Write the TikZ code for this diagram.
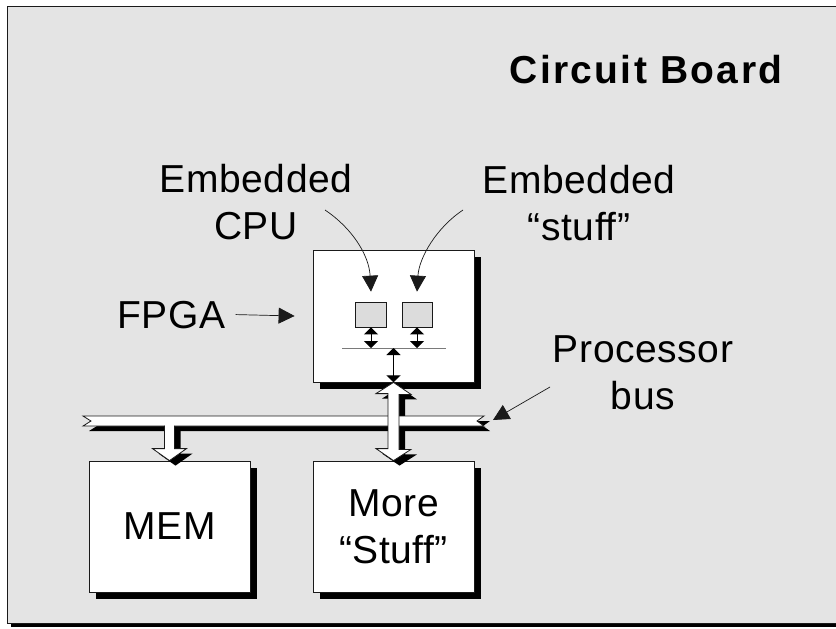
\documentclass[tikz,border=0pt]{standalone}
\usepackage{fontspec}
\setmainfont{Liberation Sans}[LetterSpace=1.5]
\newfontfamily\titlefont{Liberation Sans}[LetterSpace=6]
\usetikzlibrary{arrows.meta,shadows}
\definecolor{boardgray}{HTML}{E4E4E4}
\definecolor{chipgray}{HTML}{DCDCDC}
\definecolor{wire}{HTML}{1A1A1A}
\definecolor{trace}{HTML}{7A7A7A}

\tikzset{
  block/.style={draw=wire, line width=0.8pt, fill=white, align=center,
    minimum width=161pt, minimum height=131pt, inner sep=0pt,
    drop shadow={shadow xshift=7pt, shadow yshift=-7pt, fill=black, opacity=1}},
  core/.style={draw=wire, line width=0.7pt, fill=chipgray,
    minimum width=31pt, minimum height=25pt, inner sep=0pt},
  lbl/.style={align=center, inner sep=0pt, anchor=base},
  pointer/.style={wire, line width=0.7pt, -{Triangle[length=16pt,width=16pt]}},
  link/.style={black, line width=1pt,
    {Triangle[length=7pt,width=14pt]}-{Triangle[length=7pt,width=14pt]}},
  hollow/.style={fill=white, draw=wire, line width=0.8pt},
  shadowfill/.style={fill=black, transform canvas={xshift=6pt, yshift=-5pt}},
}

\begin{document}
\begin{tikzpicture}[x=1pt, y=-1pt, font=\fontsize{39}{47}\selectfont]
  \useasboundingbox (0,0) rectangle (836,629);

  % board
  \draw[wire, fill=boardgray, line width=0.8pt,
    drop shadow={shadow xshift=4pt, shadow yshift=-4pt, fill=black, opacity=1}]
    (7,6) rectangle (850,623);
  \node[lbl, font=\titlefont\bfseries\fontsize{39}{47}\selectfont] (title)
    at (646,83) {Circuit Board};

  % chips
  \node[block, minimum height=132pt] (fpga) at (393.5,316) {};
  \node[block] (mem) at (169.5,526.5) {MEM};
  \node[block] (more) at (393.5,526.5) {More\\“Stuff”};

  % inside the FPGA
  \node[core] (cpu) at (371,314.5) {};
  \node[core, minimum width=30pt] (stuff) at (417,314.5) {};
  \coordinate (ibl) at (342,348);
  \coordinate (ibr) at (446,348);
  \draw[trace, line width=1pt] (ibl) -- (ibr);
  \draw[link] (cpu.south) -- (cpu.south |- ibl);
  \draw[link] (stuff.south) -- (stuff.south |- ibl);
  \draw[link] (fpga.south |- ibl) -- (fpga.south);

  % processor bus
  \coordinate (busL) at (83,416);
  \coordinate (busR) at (484,416);
  \foreach \look in {shadowfill, hollow} {
    \path[\look] (busL) -- (busR) -- ++(-7,5) -- ++(7,5) -- ++(-401,0)
      -- ++(8,-5) -- cycle;
    \path[\look] (fpga.south) -- ++(17.5,12) -- ++(-12,0) -- ++(0,55)
      -- ++(12,0) -- (more.north) -- ++(-17.5,-12) -- ++(12,0)
      -- ++(0,-55) -- ++(-12,0) -- cycle;
  }
  \fill[shadowfill] (mem.north) -- ++(17,-12) -- ++(-12,0) -- ++(0,-23)
    -- ++(-10,0) -- ++(0,23) -- ++(-12,0) -- cycle;
  \fill[white] (mem.north) -- ++(17,-12) -- ++(-12,0) -- ++(0,-24)
    -- ++(-10,0) -- ++(0,24) -- ++(-12,0) -- cycle;
  \draw[wire, line width=0.8pt] ([xshift=5pt,yshift=35pt]mem.north) -- ++(0,23)
    -- ++(12,0) -- (mem.north) -- ++(-17,-12) -- ++(12,0) -- ++(0,-23);

  % labels and pointers
  \node[lbl] (cpulbl) at (256,239) {Embedded\\CPU};
  \node[lbl] (stufflbl) at (579,240) {Embedded\\“stuff”};
  \node[lbl] (fpgalbl) at (171.5,328) {FPGA};
  \node[lbl] (buslbl) at (643,409) {Processor\\bus};

  \coordinate (cpufrom) at (325,210);
  \coordinate (stufffrom) at (463,210);
  \coordinate (busfrom) at (550,387);
  \coordinate (busto) at (493,420);
  \draw[pointer] (cpufrom) .. controls (352,228) and (369,255)
    .. ([yshift=10pt]cpu.north);
  \draw[pointer] (stufffrom) .. controls (436,228) and (419,258)
    .. ([yshift=10pt]stuff.north);
  \draw[pointer] ([xshift=10pt]fpgalbl.east) -- ([xshift=-18pt]fpga.west);
  \draw[pointer] (busfrom) -- (busto);
\end{tikzpicture}
\end{document}
